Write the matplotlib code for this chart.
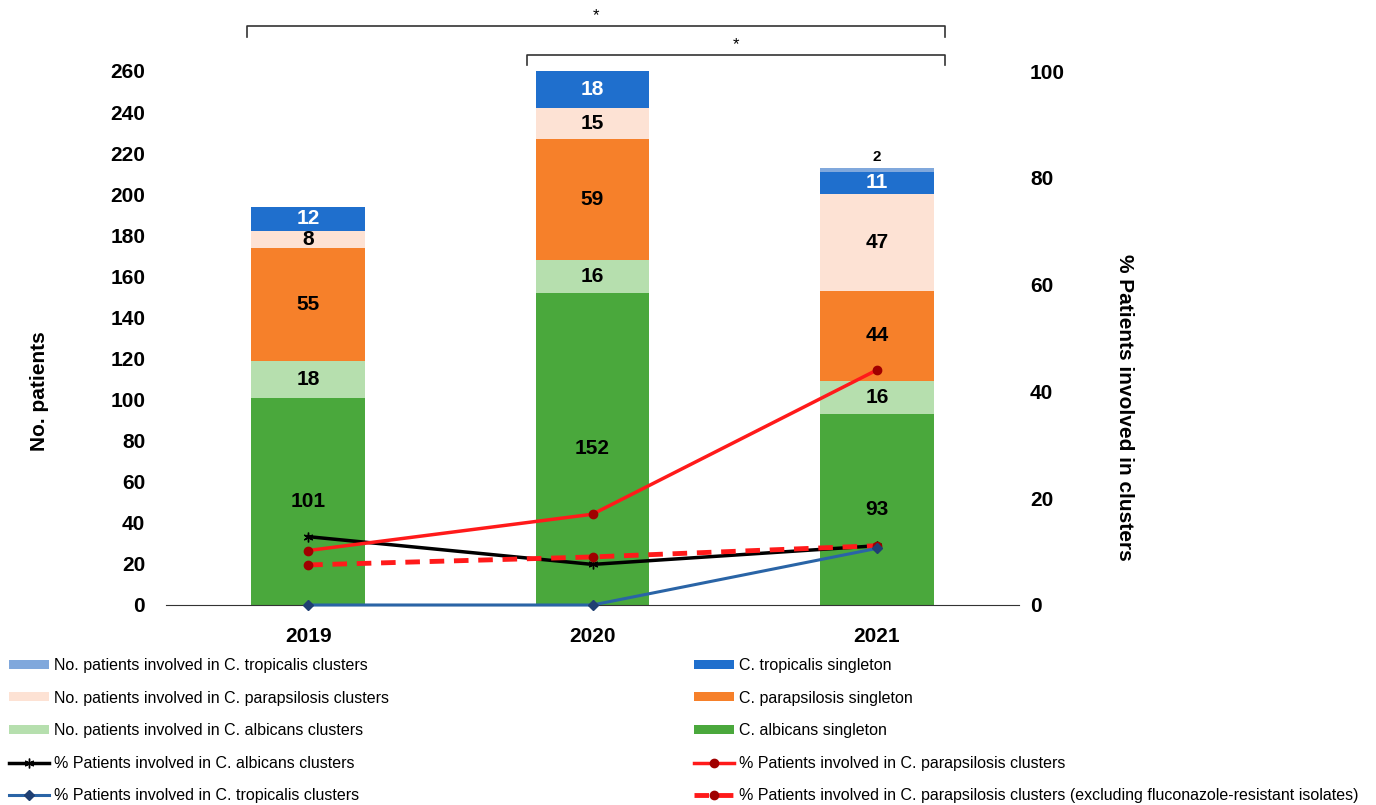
import numpy as np
import matplotlib
matplotlib.use("Agg")
import matplotlib.pyplot as plt
from matplotlib.transforms import blended_transform_factory

plt.rcParams['font.family'] = ['Liberation Sans', 'DejaVu Sans']

years = ['2019', '2020', '2021']

# stacked bar counts (bottom to top)
alb_single = [101, 152, 93]
alb_clust = [18, 16, 16]
para_single = [55, 59, 44]
para_clust = [8, 15, 47]
trop_single = [12, 18, 11]
trop_clust = [0, 0, 2]

# % patients involved in clusters (right axis)
pct_alb = [12.8, 7.6, 11.1]
pct_para = [10.2, 17.0, 44.0]
pct_para_excl = [7.5, 9.0, 11.1]
pct_trop = [0.0, 0.0, 10.6]

stack = [
    (alb_single, '#4aa83c', 'C. albicans singleton', 'black'),
    (alb_clust, '#b6dfae', 'No. patients involved in C. albicans clusters', 'black'),
    (para_single, '#f6802a', 'C. parapsilosis singleton', 'black'),
    (para_clust, '#fde2d4', 'No. patients involved in C. parapsilosis clusters', 'black'),
    (trop_single, '#1f6fcd', 'C. tropicalis singleton', 'white'),
    (trop_clust, '#80a8dc', 'No. patients involved in C. tropicalis clusters', 'black'),
]

fig = plt.figure(figsize=(13.76, 8.05), dpi=100)
ax = fig.add_axes([166 / 1376, 1 - 605 / 805, (1019 - 166) / 1376, (605 - 71) / 805])
x = np.arange(len(years))
width = 0.40

handles = {}
bottom = np.zeros(len(years))
for vals, color, label, tcolor in stack:
    vals = np.array(vals)
    b = ax.bar(x, vals, width, bottom=bottom, color=color, label=label, zorder=2)
    handles[label] = b
    for i, v in enumerate(vals):
        if v == 0:
            continue
        if v < 5:
            ax.text(x[i], bottom[i] + v + 1.5, str(v), ha='center', va='bottom',
                    fontsize=11, fontweight='bold', color='black')
        else:
            ax.text(x[i], bottom[i] + v / 2, str(v), ha='center', va='center',
                    fontsize=15, fontweight='bold', color=tcolor)
    bottom = bottom + vals

ax.set_xlim(-0.5, 2.5)
ax.set_ylim(0, 260)
ax.set_yticks(range(0, 261, 20))
ax.set_xticks(x)
ax.set_xticklabels(years, fontsize=15, fontweight='bold')
ax.tick_params(axis='y', length=0, pad=15, labelsize=15)
ax.tick_params(axis='x', length=0, pad=16)
for lab in ax.get_yticklabels():
    lab.set_fontweight('bold')
for s in ['top', 'left', 'right']:
    ax.spines[s].set_visible(False)
ax.spines['bottom'].set_color('#333333')
ax.set_ylabel('No. patients', fontsize=15, fontweight='bold', va='center')
ax.yaxis.set_label_coords(-0.148, 0.40)

ax2 = ax.twinx()
ax2.set_ylim(0, 100)
ax2.set_yticks(range(0, 101, 20))
ax2.tick_params(axis='y', length=0, pad=8, labelsize=15)
for lab in ax2.get_yticklabels():
    lab.set_fontweight('bold')
for s in ax2.spines.values():
    s.set_visible(False)
ax2.set_ylabel('% Patients involved in clusters', fontsize=15, fontweight='bold',
               rotation=-90, va='center')
ax2.yaxis.set_label_coords(1.124, 0.37)

l_alb, = ax2.plot(x, pct_alb, color='black', lw=2.5, marker=(6, 2, 0), ms=7,
                  mec='black', label='% Patients involved in C. albicans clusters')
l_para, = ax2.plot(x, pct_para, color='#ff1a1a', lw=2.5, marker='o', ms=6,
                   mfc='#a00000', mec='#a00000',
                   label='% Patients involved in C. parapsilosis clusters')
l_excl, = ax2.plot(x, pct_para_excl, color='#ff1a1a', lw=3.5, ls=(0, (3, 2)),
                   marker='o', ms=6, mfc='#a00000', mec='#a00000',
                   label='% Patients involved in C. parapsilosis clusters (excluding fluconazole-resistant isolates)')
l_trop, = ax2.plot(x, pct_trop, color='#2a64a6', lw=2.2, marker='D', ms=5,
                   mfc='#1f3f73', mec='#1f3f73',
                   label='% Patients involved in C. tropicalis clusters')
for l in (l_alb, l_para, l_excl, l_trop):
    l.set_clip_on(False)

# significance brackets
tr = blended_transform_factory(ax.transData, fig.transFigure)
def bracket(x0, x1, ytop, ybot, ystar):
    ax.plot([x0, x0, x1, x1], [ybot, ytop, ytop, ybot], color='#333333', lw=1.2,
            transform=tr, clip_on=False)
    ax.text((x0 + x1) / 2, ystar, '*', ha='center', va='center', fontsize=12,
            transform=tr)

bracket(-0.215, 2.24, 1 - 26 / 805, 1 - 37 / 805, 1 - 16 / 805)
bracket(0.77, 2.24, 1 - 55 / 805, 1 - 65 / 805, 1 - 45 / 805)

# legend in two columns
left_items = [
    handles['No. patients involved in C. tropicalis clusters'],
    handles['No. patients involved in C. parapsilosis clusters'],
    handles['No. patients involved in C. albicans clusters'],
    l_alb, l_trop,
]
right_items = [
    handles['C. tropicalis singleton'],
    handles['C. parapsilosis singleton'],
    handles['C. albicans singleton'],
    l_para, l_excl,
]
common = dict(frameon=False, loc='upper left', fontsize=11.5, handlelength=2.5,
              handleheight=0.5, handletextpad=0.3, labelspacing=1.1,
              borderpad=0, borderaxespad=0)
fig.legend(handles=left_items, labels=[h.get_label() for h in left_items],
           bbox_to_anchor=(9 / 1376, 1 - 658 / 805), **common)
fig.legend(handles=right_items, labels=[h.get_label() for h in right_items],
           bbox_to_anchor=(694 / 1376, 1 - 658 / 805), **common)

fig.savefig('out.png', dpi=100)
